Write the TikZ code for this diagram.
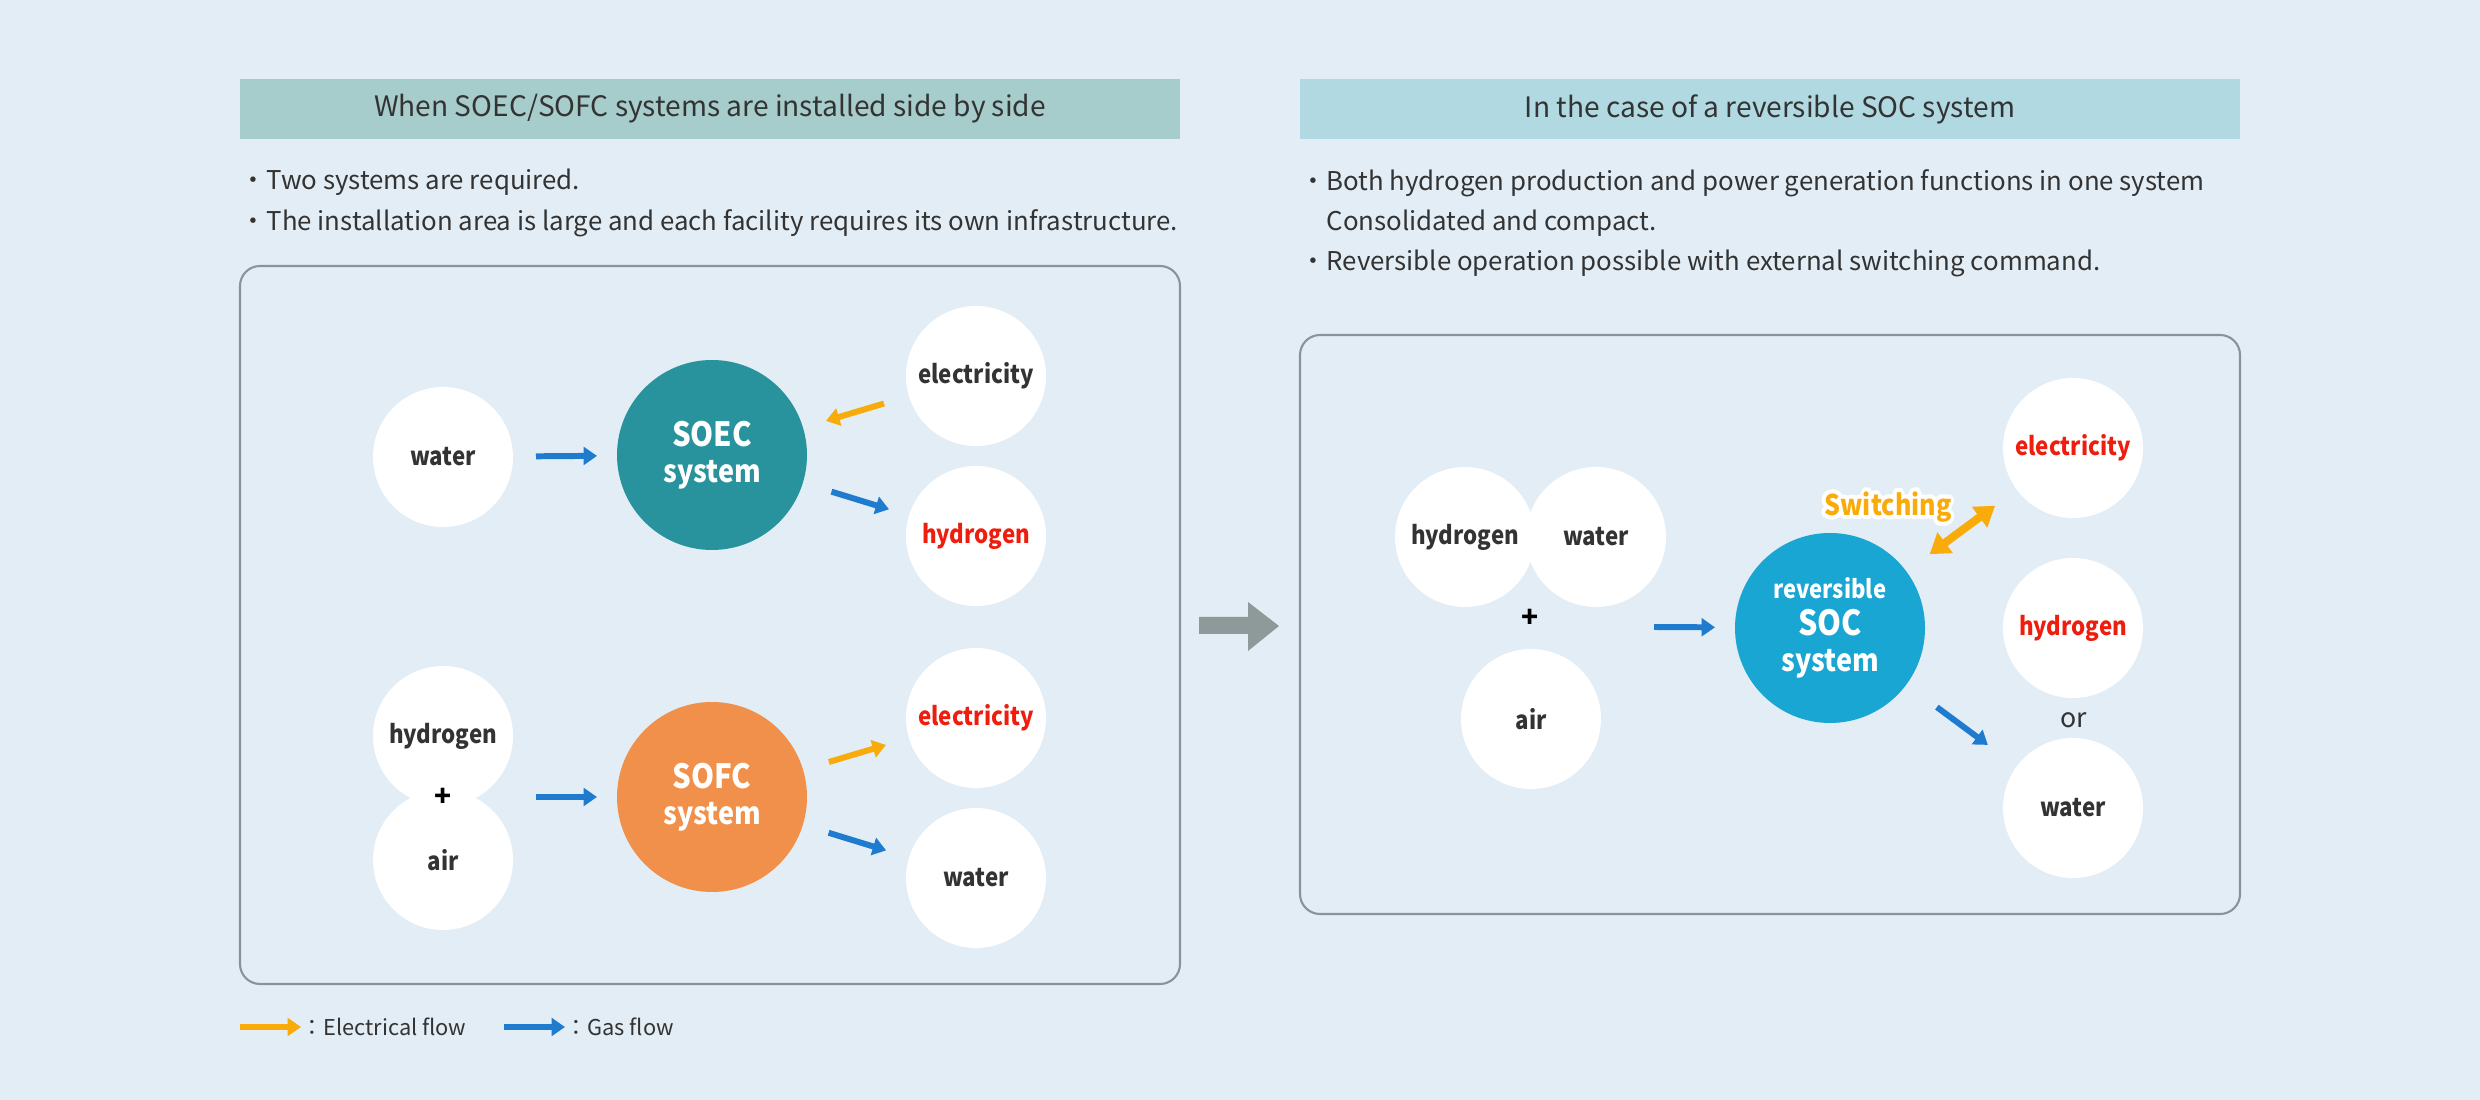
\documentclass[tikz,border=0pt]{standalone}
\usepackage{fontspec}
\setmainfont{Noto Sans CJK JP}
\newfontfamily\labelfont{Noto Sans CJK JP}[FakeStretch=0.88]
\usepackage{tikz}
\usetikzlibrary{arrows.meta}
\usepackage{contour}
\contourlength{1.1pt}

\definecolor{bgblue}{HTML}{E2EDF5}
\definecolor{bandgreen}{HTML}{A6CDCB}
\definecolor{bandblue}{HTML}{B1D9E2}
\definecolor{boxgray}{HTML}{8C9398}
\definecolor{soecteal}{HTML}{28939D}
\definecolor{sofcorange}{HTML}{F1904A}
\definecolor{socblue}{HTML}{19A6D3}
\definecolor{gasblue}{HTML}{1F7BCE}
\definecolor{elecorange}{HTML}{F9AB0A}
\definecolor{hotred}{HTML}{EE1D0D}
\definecolor{inkgray}{HTML}{333333}
\definecolor{arrowgray}{HTML}{8E9999}

\begin{document}
\begin{tikzpicture}[x=0.1mm, y=-0.1mm,
    bubble/.style={circle, fill=white, minimum size=14mm, inner sep=0pt, outer sep=0pt,
        text=inkgray, font=\labelfont\bfseries\fontsize{7.2}{8}\selectfont},
    unit/.style={circle, minimum size=19mm, inner sep=0pt, outer sep=0pt, text=white,
        align=center, font=\labelfont\bfseries\fontsize{8.75}{10.3}\selectfont},
    plain/.style={inner sep=0pt, text=inkgray, font=\fontsize{7.6}{9}\selectfont},
    band/.style={minimum width=94mm, minimum height=6mm, inner sep=0pt, text=inkgray,
        font=\fontsize{8}{9}\selectfont},
    bullet/.style={anchor=west, inner sep=0pt, text=inkgray, font=\fontsize{7.35}{8}\selectfont},
    gas/.style={draw=gasblue, line width=1.7pt, -{Triangle[length=3.8pt,width=5pt]}},
    elec/.style={draw=elecorange, line width=1.7pt, -{Triangle[length=3.8pt,width=5pt]}},
    switchflow/.style={draw=elecorange, line width=2.3pt,
        {Triangle[length=5.5pt,width=7pt]}-{Triangle[length=5.5pt,width=7pt]}}]

    \fill[bgblue] (0,0) rectangle (2480,1100);
    \useasboundingbox (0,0) rectangle (2480,1100);

    % side by side
    \node[band, fill=bandgreen] (bandL) at (710,109) {When SOEC/SOFC systems are installed side by side};
    \node[bullet] (noteL1) at (240,182) {・Two systems are required.};
    \node[bullet] (noteL2) at (240,223) {・The installation area is large and each facility requires its own infrastructure.};
    \draw[boxgray, line width=0.6pt, rounded corners=2mm] (240,266) rectangle (1180,984);

    \node[bubble] (waterL) at (443,457) {water};
    \node[unit, fill=soecteal] (soec) at (712,455) {{\fontsize{9.5}{10.3}\selectfont SOEC}\\system};
    \node[bubble] (elecL) at (976,376) {electricity};
    \node[bubble, text=hotred] (hydL) at (976,536) {hydrogen};
    \draw[gas, shorten <=2.3mm, shorten >=2mm] (waterL) -- (soec);
    \draw[elec, shorten <=2.6mm, shorten >=2.4mm] (elecL) -- (soec);
    \draw[gas, shorten <=3mm, shorten >=2.1mm] (soec) -- (hydL);

    \node[bubble] (hydIn) at (443,736) {hydrogen};
    \node[bubble] (airIn) at (443,860) {air};
    \node[plain, text=black, font=\bfseries\fontsize{8}{9}\selectfont] (plusL) at (443,797) {+};
    \node[unit, fill=sofcorange] (sofc) at (712,797) {{\fontsize{9.5}{10.3}\selectfont SOFC}\\system};
    \node[bubble, text=hotred] (elecL2) at (976,718) {electricity};
    \node[bubble] (waterL2) at (976,878) {water};
    \draw[gas, shorten <=2.3mm, shorten >=2mm] (hydIn.east |- sofc) -- (sofc);
    \draw[elec, shorten <=2.7mm, shorten >=2.4mm] (sofc) -- (elecL2);
    \draw[gas, shorten <=2.7mm, shorten >=2.4mm] (sofc) -- (waterL2);

    % legend
    \coordinate (legE) at (240,1027);
    \node[bullet, font=\fontsize{6.2}{7}\selectfont] (legEtxt) at (301,1027) {：Electrical flow};
    \draw[elec] (legE) -- (legEtxt.west);
    \coordinate (legG) at (504,1027);
    \node[bullet, font=\fontsize{6.2}{7}\selectfont] (legGtxt) at (565,1027) {：Gas flow};
    \draw[gas] (legG) -- (legGtxt.west);

    \fill[arrowgray] (1199,617) -- (1248,617) -- (1248,602) -- (1279,626)
        -- (1248,651) -- (1248,634) -- (1199,634) -- cycle;

    % reversible SOC
    \node[band, fill=bandblue] (bandR) at (1770,109) {In the case of a reversible SOC system};
    \node[bullet] (noteR1) at (1300,183) {・Both hydrogen production and power generation functions in one system};
    \node[bullet] (noteR2) at (1300,223) {\hphantom{・}Consolidated and compact.};
    \node[bullet] (noteR3) at (1300,263) {・Reversible operation possible with external switching command.};
    \draw[boxgray, line width=0.6pt, rounded corners=2mm] (1300,335) rectangle (2240,914);

    \node[bubble] (hydR) at (1465,537) {hydrogen};
    \node[bubble] (waterR) at (1596,537) {water};
    \node[plain, text=black, font=\bfseries\fontsize{8}{9}\selectfont] (plusR) at (1530,618) {+};
    \node[bubble] (airR) at (1531,719) {air};
    \coordinate (feedR) at (1654,627);
    \node[unit, fill=socblue] (soc) at (1830,628)
        {{\fontsize{7.15}{10.3}\selectfont reversible}\\{\fontsize{9.85}{11}\selectfont SOC}\\system};
    \draw[gas, shorten >=2mm] (feedR) -- (soc);

    \node[bubble, text=hotred] (elecR) at (2073,448) {electricity};
    \node[bubble, text=hotred] (hydOut) at (2073,628) {hydrogen};
    \node[plain] (orR) at (2074,720) {or};
    \node[bubble] (waterOut) at (2073,808) {water};
    \draw[switchflow, shorten <=2.9mm, shorten >=2.7mm] (soc) -- (elecR);
    \node[font=\labelfont\bfseries\fontsize{8.1}{9}\selectfont, text=elecorange] (switch) at (1888,509)
        {\contour{white}{Switching}};
    \draw[gas, shorten <=3.8mm, shorten >=3.6mm] (soc) -- (waterOut);
\end{tikzpicture}
\end{document}
